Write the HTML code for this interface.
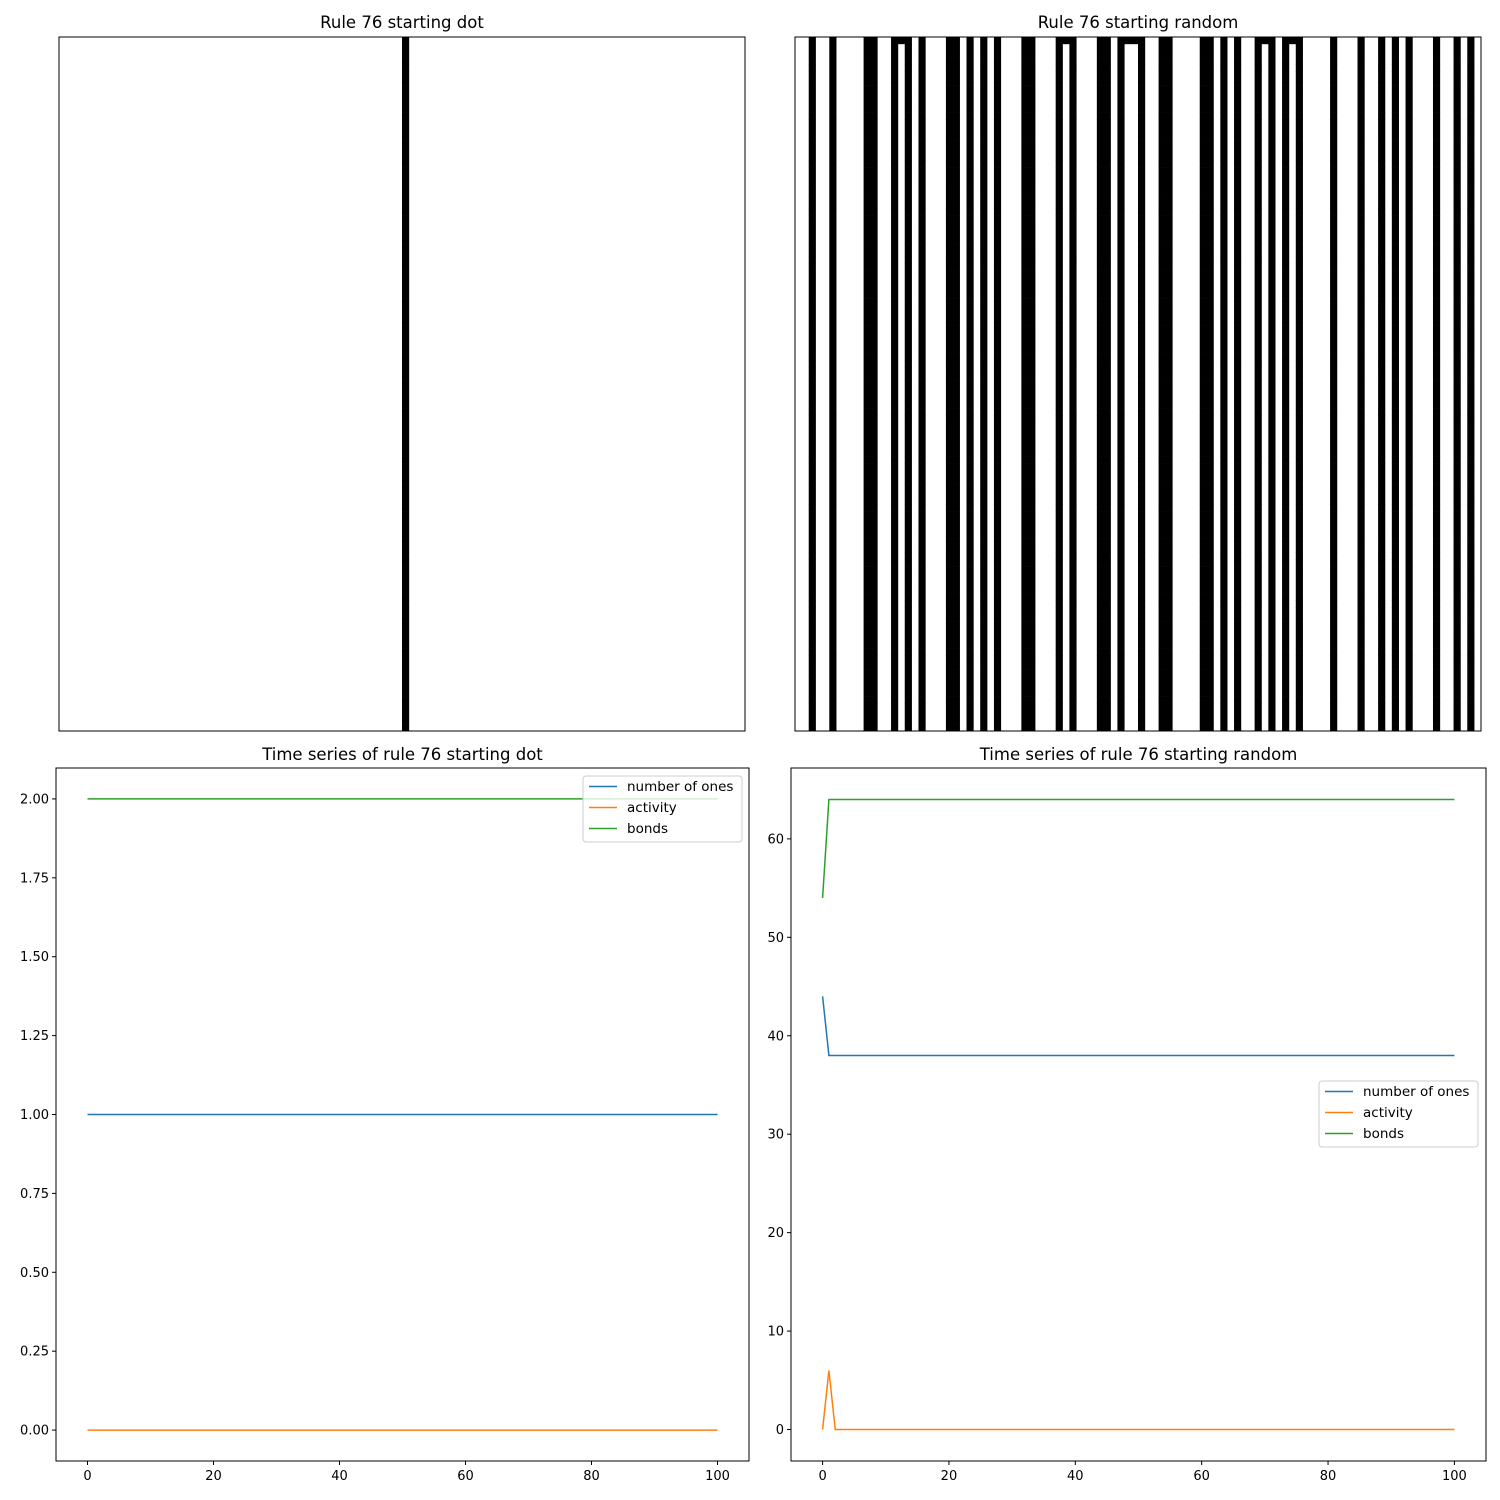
<!DOCTYPE html>
<html><head><meta charset="utf-8"><style>
html,body{margin:0;padding:0;background:#fff;}
svg{display:block;font-family:"DejaVu Sans","Liberation Sans",sans-serif;}
</style></head><body>
<svg id="fig" width="1500" height="1500" viewBox="0 0 1500 1500" xmlns="http://www.w3.org/2000/svg"></svg>
<script>
// ---- data ----
const nCols = 100;
const nSteps = 101;
const dotInitialOnes = [50];
const randomInitialOnes = [2,5,10,11,14,15,16,18,22,23,25,27,29,33,34,38,39,40,44,45,47,48,49,50,53,54,59,60,62,64,67,68,69,71,72,73,78,82,85,87,89,93,96,98];
const timeSteps = [0,1,2,3,4,5,6,7,8,9,10,11,12,13,14,15,16,17,18,19,20,21,22,23,24,25,26,27,28,29,30,31,32,33,34,35,36,37,38,39,40,41,42,43,44,45,46,47,48,49,50,51,52,53,54,55,56,57,58,59,60,61,62,63,64,65,66,67,68,69,70,71,72,73,74,75,76,77,78,79,80,81,82,83,84,85,86,87,88,89,90,91,92,93,94,95,96,97,98,99,100];
const dotOnes = [1,1,1,1,1,1,1,1,1,1,1,1,1,1,1,1,1,1,1,1,1,1,1,1,1,1,1,1,1,1,1,1,1,1,1,1,1,1,1,1,1,1,1,1,1,1,1,1,1,1,1,1,1,1,1,1,1,1,1,1,1,1,1,1,1,1,1,1,1,1,1,1,1,1,1,1,1,1,1,1,1,1,1,1,1,1,1,1,1,1,1,1,1,1,1,1,1,1,1,1,1];
const dotActivity = [0,0,0,0,0,0,0,0,0,0,0,0,0,0,0,0,0,0,0,0,0,0,0,0,0,0,0,0,0,0,0,0,0,0,0,0,0,0,0,0,0,0,0,0,0,0,0,0,0,0,0,0,0,0,0,0,0,0,0,0,0,0,0,0,0,0,0,0,0,0,0,0,0,0,0,0,0,0,0,0,0,0,0,0,0,0,0,0,0,0,0,0,0,0,0,0,0,0,0,0,0];
const dotBonds = [2,2,2,2,2,2,2,2,2,2,2,2,2,2,2,2,2,2,2,2,2,2,2,2,2,2,2,2,2,2,2,2,2,2,2,2,2,2,2,2,2,2,2,2,2,2,2,2,2,2,2,2,2,2,2,2,2,2,2,2,2,2,2,2,2,2,2,2,2,2,2,2,2,2,2,2,2,2,2,2,2,2,2,2,2,2,2,2,2,2,2,2,2,2,2,2,2,2,2,2,2];
const rndOnes = [44,38,38,38,38,38,38,38,38,38,38,38,38,38,38,38,38,38,38,38,38,38,38,38,38,38,38,38,38,38,38,38,38,38,38,38,38,38,38,38,38,38,38,38,38,38,38,38,38,38,38,38,38,38,38,38,38,38,38,38,38,38,38,38,38,38,38,38,38,38,38,38,38,38,38,38,38,38,38,38,38,38,38,38,38,38,38,38,38,38,38,38,38,38,38,38,38,38,38,38,38];
const rndActivity = [0,6,0,0,0,0,0,0,0,0,0,0,0,0,0,0,0,0,0,0,0,0,0,0,0,0,0,0,0,0,0,0,0,0,0,0,0,0,0,0,0,0,0,0,0,0,0,0,0,0,0,0,0,0,0,0,0,0,0,0,0,0,0,0,0,0,0,0,0,0,0,0,0,0,0,0,0,0,0,0,0,0,0,0,0,0,0,0,0,0,0,0,0,0,0,0,0,0,0,0,0];
const rndBonds = [54,
64,64,64,64,64,64,64,64,64,64,
64,64,64,64,64,64,64,64,64,64,
64,64,64,64,64,64,64,64,64,64,
64,64,64,64,64,64,64,64,64,64,
64,64,64,64,64,64,64,64,64,64,
64,64,64,64,64,64,64,64,64,64,
64,64,64,64,64,64,64,64,64,64,
64,64,64,64,64,64,64,64,64,64,
64,64,64,64,64,64,64,64,64,64,
64,64,64,64,64,64,64,64,64,64];
const xTicks = [0,20,40,60,80,100];
const dotYTicks = [0,0.25,0.5,0.75,1,1.25,1.5,1.75,2];
const rndYTicks = [0,10,20,30,40,50,60];
const seriesNames = ["number of ones","activity","bonds"];
const seriesColors = ["#1f77b4","#ff7f0e","#2ca02c"];

const NS = "http://www.w3.org/2000/svg";
const svg = document.getElementById("fig");
function mk(tag, attrs, parent){ const e=document.createElementNS(NS,tag); for(const k in attrs) e.setAttribute(k,attrs[k]); (parent||svg).appendChild(e); return e; }

const RULE = 76;
function simulate(initOnes){
  let row = new Array(nCols).fill(0);
  initOnes.forEach(i=>row[i]=1);
  const rows=[row];
  for(let t=1;t<nSteps;t++){
    const p=rows[t-1], n=[];
    for(let i=0;i<nCols;i++){
      const l=p[(i-1+nCols)%nCols], c=p[i], r=p[(i+1)%nCols];
      n.push((RULE>>(l*4+c*2+r))&1);
    }
    rows.push(n);
  }
  return rows;
}

function drawCA(x0,y0,w,h,initOnes,title,name){
  const g=mk("g",{});
  
  
  const rows=simulate(initOnes);
  const cw=w/nCols, ch=h/nSteps;
  rows.forEach((row,t)=>{
    let i=0;
    while(i<nCols){
      if(row[i]){ let j=i; while(j<nCols&&row[j]) j++;
        const r=mk("rect",{x:x0+i*cw,y:y0+t*ch,width:(j-i)*cw+0.3,height:ch+0.3,fill:"#000"},g);
        
        
        i=j; } else i++;
    }
  });
  const f=mk("rect",{x:x0,y:y0,width:w,height:h,fill:"none",stroke:"#000","stroke-width":1},g);
  
  
  const tt=mk("text",{x:x0+w/2,y:y0-9,"text-anchor":"middle","font-size":16.5},g);
  tt.textContent=title;
  
  
}

function drawTS(L,T,R,B,xmin,xmax,ymin,ymax,yTicks,yFmt,series,title,legend,name){
  const g=mk("g",{});
  
  
  const sx=v=>L+(v-xmin)/(xmax-xmin)*(R-L);
  const sy=v=>B-(v-ymin)/(ymax-ymin)*(B-T);
  xTicks.forEach(v=>{
    mk("line",{x1:sx(v),x2:sx(v),y1:B,y2:B+4,stroke:"#000"},g);
    const t=mk("text",{x:sx(v),y:B+19,"text-anchor":"middle","font-size":13},g);
    t.textContent=v;
    
    
  });
  yTicks.forEach(v=>{
    mk("line",{x1:L-4,x2:L,y1:sy(v),y2:sy(v),stroke:"#000"},g);
    const t=mk("text",{x:L-7,y:sy(v)+4.5,"text-anchor":"end","font-size":13},g);
    t.textContent=yFmt(v);
    
    
  });
  series.forEach((s,k)=>{
    const d=timeSteps.map((x,i)=>(i?"L":"M")+sx(x).toFixed(2)+","+sy(s[i]).toFixed(2)).join("");
    const p=mk("path",{d:d,fill:"none",stroke:seriesColors[k],"stroke-width":1.5},g);
    
    
  });
  const f=mk("rect",{x:L,y:T,width:R-L,height:B-T,fill:"none",stroke:"#000","stroke-width":1},g);
  
  
  const tt=mk("text",{x:(L+R)/2,y:T-8,"text-anchor":"middle","font-size":16.5},g);
  tt.textContent=title;
  
  
  const lg=mk("g",{},g);
  
  
  mk("rect",{x:legend[0],y:legend[1],width:159,height:66,rx:3,fill:"#fff","fill-opacity":0.8,stroke:"#ccc"},lg);
  seriesNames.forEach((n,k)=>{
    const yy=legend[1]+10.5+k*21;
    mk("line",{x1:legend[0]+6,x2:legend[0]+34,y1:yy,y2:yy,stroke:seriesColors[k],"stroke-width":1.5},lg);
    const t=mk("text",{x:legend[0]+44,y:yy+4.5,"font-size":13.5},lg);
    t.textContent=n;
    
    
  });
}

drawCA(59,37,686,694,dotInitialOnes,"Rule 76 starting dot","ca-dot-panel");
drawCA(795,37,686,694,randomInitialOnes,"Rule 76 starting random","ca-random-panel");
drawTS(56,768,749,1461,-5,105,-0.098,2.098,dotYTicks,v=>v.toFixed(2),[dotOnes,dotActivity,dotBonds],"Time series of rule 76 starting dot",[583,776],"timeseries-dot-panel");
drawTS(791,768,1486,1461,-5,105,-3.2,67.2,rndYTicks,v=>String(v),[rndOnes,rndActivity,rndBonds],"Time series of rule 76 starting random",[1319,1081],"timeseries-random-panel");
</script>
</body></html>
